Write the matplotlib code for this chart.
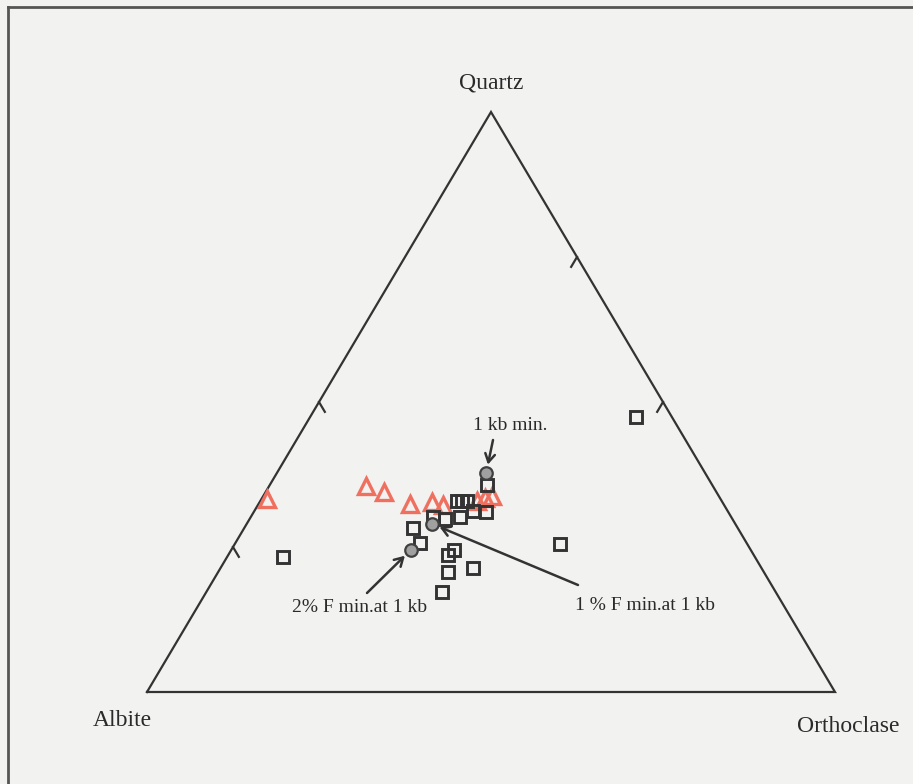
import matplotlib
matplotlib.use("Agg")
import matplotlib.pyplot as plt
from matplotlib.lines import Line2D
import numpy as np

# Normative compositions (wt %) plotted in the Qz-Ab-Or system
sample_quartz = [35.7, 32.9, 32.9, 32.9, 30.2, 31.2, 31.0, 30.2, 29.8, 28.3,
                 25.7, 24.5, 23.6, 20.7, 21.4, 17.2, 25.5, 47.4, 23.3]
sample_albite = [32.7, 38.5, 37.8, 37.1, 39.4, 37.0, 35.2, 43.3, 41.8, 47.2,
                 47.5, 43.1, 44.5, 45.9, 41.9, 48.5, 27.2, 5.2, 68.6]
sample_orthoclase = [31.6, 28.6, 29.3, 30.0, 30.4, 31.8, 33.8, 26.5, 28.4, 24.5,
                     26.8, 32.4, 31.9, 33.4, 36.7, 34.3, 47.3, 47.4, 8.1]

aplite_quartz = [33.3, 35.5, 34.5, 32.4, 32.8, 32.2, 32.9, 33.4, 33.8]
aplite_albite = [65.9, 50.4, 48.3, 45.6, 42.2, 40.9, 35.6, 34.2, 33.0]
aplite_orthoclase = [0.8, 14.1, 17.2, 22.0, 25.0, 26.9, 31.5, 32.4, 33.2]

minima_labels = ["1 kb min.", "1 % F min.at 1 kb", "2% F min.at 1 kb"]
minima_quartz = [37.8, 29.0, 24.5]
minima_albite = [31.8, 44.1, 49.4]
minima_orthoclase = [30.4, 26.9, 26.1]

apex_labels = ["Quartz", "Albite", "Orthoclase"]
left_ticks = [0.25, 0.50]     # Quartz fraction on the Ab-Qz side
right_ticks = [0.50, 0.75]    # Quartz fraction on the Or-Qz side

W, H = 913, 784
INK = "#333333"


def to_xy(q, a, o):
    q, a, o = (np.asarray(v, dtype=float) for v in (q, a, o))
    s = q + a + o
    q, o = q / s, o / s
    return o + q / 2.0, q


def fpx(x, y):
    """figure pixel position measured from the top-left corner"""
    return x / W, 1 - y / H


fig = plt.figure(figsize=(W / 100, H / 100), dpi=100)
fig.patch.set_facecolor("#f2f2f0")

left, right, top, bottom = 147, 835, 112, 692
ax = fig.add_axes([left / W, 1 - bottom / H, (right - left) / W, (bottom - top) / H])
ax.set_xlim(0, 1)
ax.set_ylim(0, 1)
ax.axis("off")

# triangle outline
ax.plot([0, 1, 0.5, 0], [0, 0, 1, 0], color=INK, lw=1.6, clip_on=False,
        solid_joinstyle="miter")

# short ticks along the two upper sides
t = 0.017
for q in left_ticks:
    x0 = q / 2
    ax.plot([x0, x0 + 0.5 * t], [q, q - t], color=INK, lw=1.6, clip_on=False)
for q in right_ticks:
    x0 = 1 - q / 2
    ax.plot([x0, x0 - 0.5 * t], [q, q - t], color=INK, lw=1.6, clip_on=False)

serif = ["Liberation Serif", "DejaVu Serif"]
TXT = "#2a2a2a"

# apex labels
fig.text(*fpx(491, 83), apex_labels[0], family=serif, fontsize=17,
         ha="center", va="center", color=TXT)
fig.text(*fpx(122, 721), apex_labels[1], family=serif, fontsize=17,
         ha="center", va="center", color=TXT)
fig.text(*fpx(848, 727), apex_labels[2], family=serif, fontsize=17,
         ha="center", va="center", color=TXT)

# sample points
sx, sy = to_xy(sample_quartz, sample_albite, sample_orthoclase)
ax.plot(sx, sy, ls="none", marker="s", ms=9.3, mfc="none", mec=INK, mew=2.1,
        clip_on=False, zorder=3)

tx, ty = to_xy(aplite_quartz, aplite_albite, aplite_orthoclase)
ax.plot(tx, ty, ls="none", marker="^", ms=11, mfc="none", mec="#f07060", mew=2.4,
        clip_on=False, zorder=2)

mx, my = to_xy(minima_quartz, minima_albite, minima_orthoclase)
ax.plot(mx, my, ls="none", marker="o", ms=9, mfc="#a0a0a0", mec="#404040", mew=1.6,
        clip_on=False, zorder=4)

# labels and arrows for the experimental minima
label_pos = [(510, 425), (645, 606), (360, 608)]
arrow_start = [(493, 440), (578, 585), (367, 593)]
for i, lab in enumerate(minima_labels):
    fig.text(*fpx(*label_pos[i]), lab, family=serif, fontsize=14,
             ha="center", va="center", color=TXT)
    ax.annotate("", xy=(mx[i], my[i]), xycoords="data",
                xytext=fpx(*arrow_start[i]), textcoords="figure fraction",
                arrowprops=dict(arrowstyle="->,head_length=0.6,head_width=0.35",
                                color=INK, lw=1.8, shrinkA=0, shrinkB=6))

# frame around the figure
fig.add_artist(Line2D([8 / W, 8 / W], [0, 1 - 7 / H], color="#555555", lw=2,
                      transform=fig.transFigure))
fig.add_artist(Line2D([8 / W, 1], [1 - 7 / H, 1 - 7 / H], color="#555555", lw=2,
                      transform=fig.transFigure))

fig.savefig("out.png", dpi=100, facecolor=fig.get_facecolor())
